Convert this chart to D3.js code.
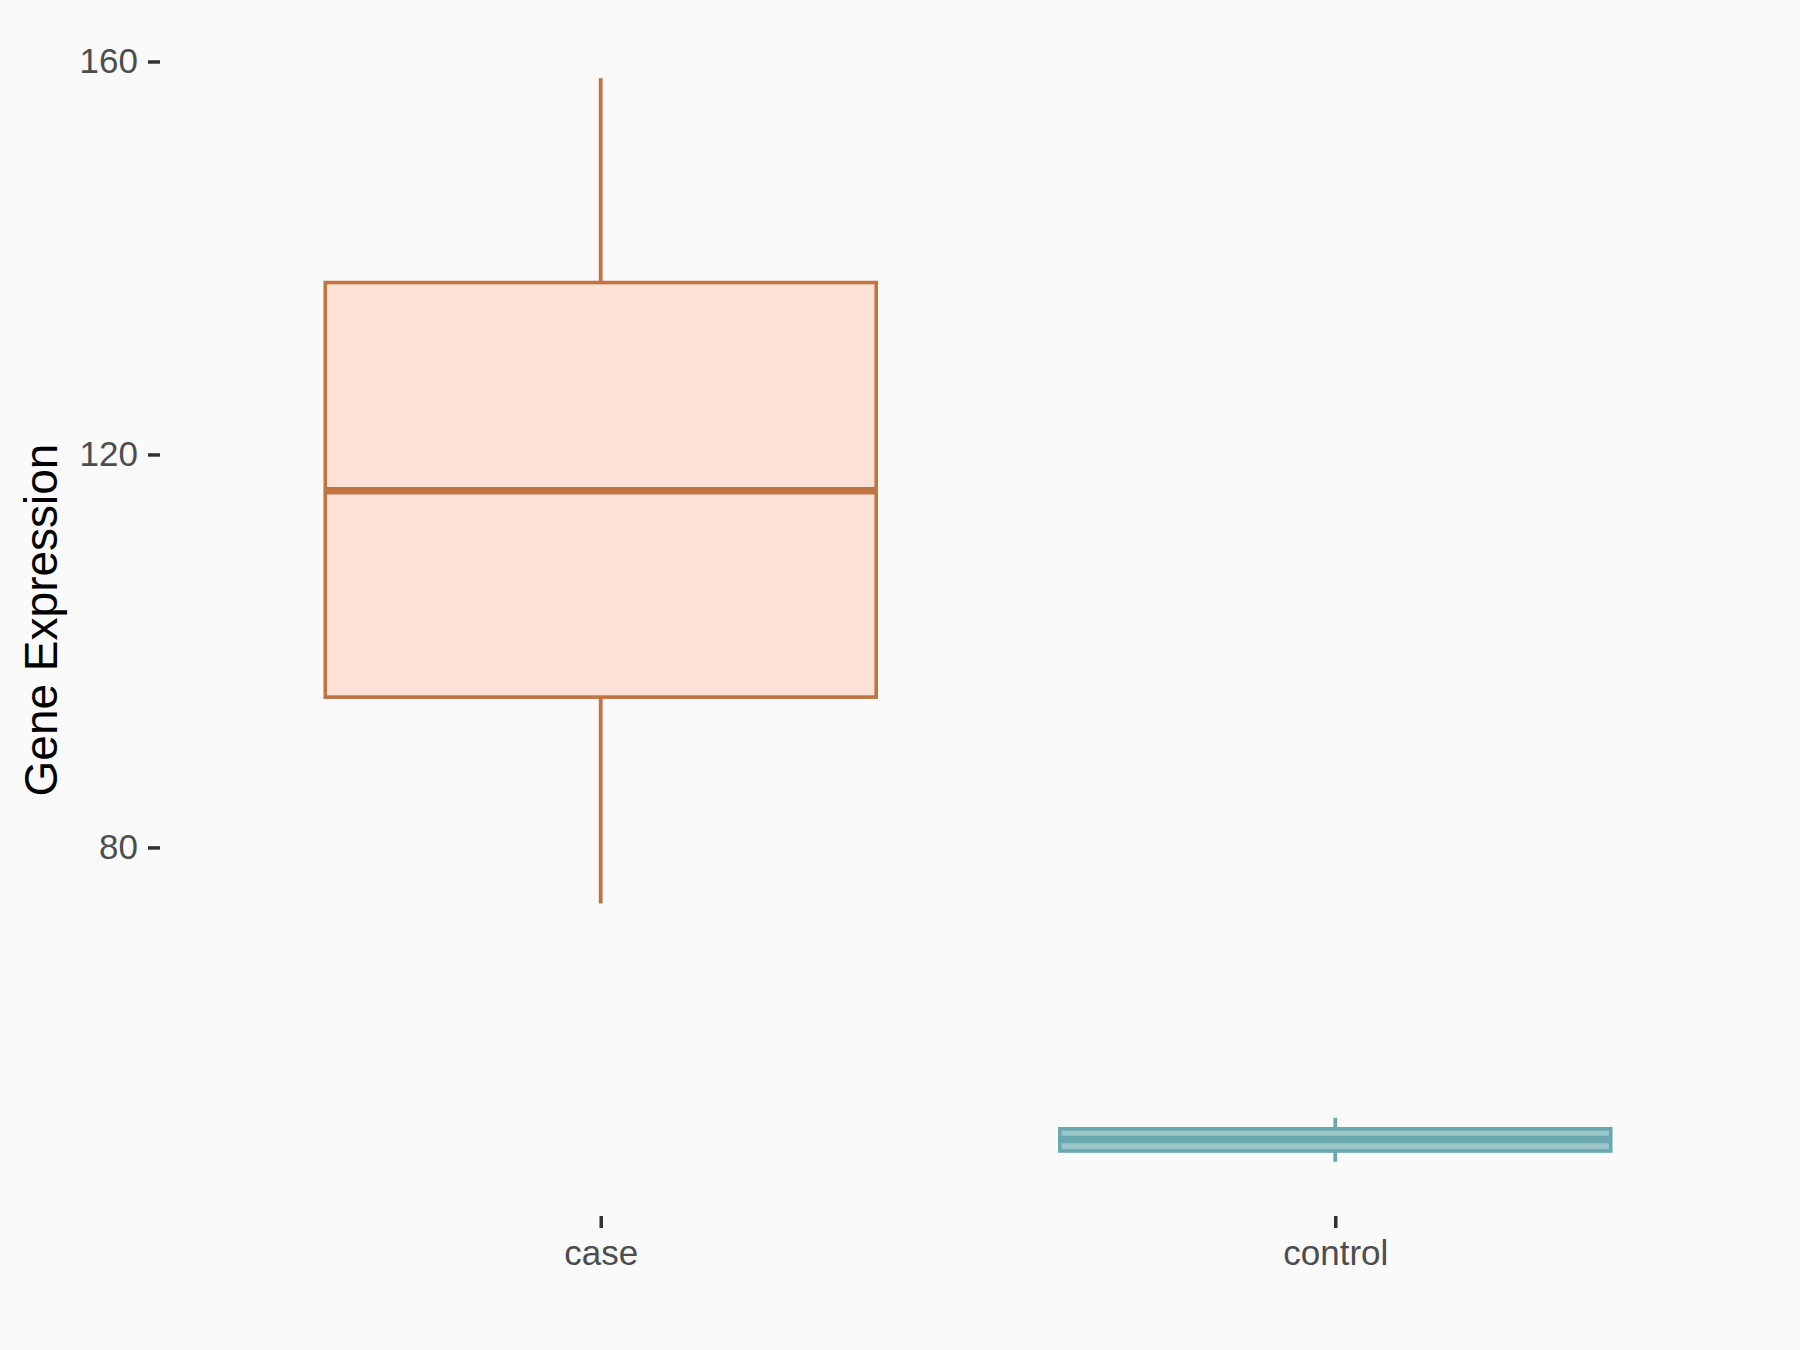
<!DOCTYPE html>
<html>
<head>
<meta charset="utf-8">
<title>Gene Expression boxplot</title>
<style>
    body, html {
        margin: 0;
        background: #fafafa;
        font-family: "Liberation Sans", Arial, sans-serif;
    }
    .axis .domain {
        display: none;
    }
</style>
</head>
<body>
<div id="chart"></div>
<script src="https://cdn.jsdelivr.net/npm/d3@7"></script>
<script>

    // box statistics
    var groups = ['case', 'control'];
    var lowerWhisker = [74.3, 48.0];
    var lowerHinge = [95.3, 49.1];
    var medians = [116.3, 50.27];
    var upperHinge = [137.5, 51.36];
    var upperWhisker = [158.3, 52.48];
    var yTicks = [80, 120, 160];

    var fills = ['#fee1d6', '#9cc5c8'];
    var strokes = ['#c07442', '#6aa8b0'];

    var width = 1800;
    var height = 1350;
    var margin = {top: 24, right: 24, bottom: 134, left: 160};

    var svg = d3.select('#chart')
        .append('svg')
        .attr('width', width)
        .attr('height', height)
        .style('display', 'block');

    svg.append('rect')
        .attr('width', width)
        .attr('height', height)
        .attr('fill', '#fafafa');

    var x = d3.scalePoint()
        .domain(groups)
        .range([margin.left, width - margin.right])
        .padding(0.6);

    var boxWidth = x.step() * 0.75;

    var lo = d3.min(lowerWhisker);
    var hi = d3.max(upperWhisker);
    var pad = (hi - lo) * 0.05;

    var y = d3.scaleLinear()
        .domain([lo - pad, hi + pad])
        .range([height - margin.bottom, margin.top]);

    var data = groups.map(function(g, i) {
        return {
            group: g,
            lw: lowerWhisker[i],
            q1: lowerHinge[i],
            med: medians[i],
            q3: upperHinge[i],
            uw: upperWhisker[i],
            fill: fills[i],
            stroke: strokes[i]
        };
    });

    var box = svg.selectAll('.box')
        .data(data)
        .enter()
        .append('g')
        .attr('class', 'box');

    // whiskers
    box.append('line')
        .attr('x1', function(d) { return x(d.group); })
        .attr('x2', function(d) { return x(d.group); })
        .attr('y1', function(d) { return y(d.uw); })
        .attr('y2', function(d) { return y(d.lw); })
        .attr('stroke', function(d) { return d.stroke; })
        .attr('stroke-width', 3.8);

    box.append('rect')
        .attr('x', function(d) { return x(d.group) - boxWidth / 2; })
        .attr('width', boxWidth)
        .attr('y', function(d) { return y(d.q3); })
        .attr('height', function(d) { return y(d.q1) - y(d.q3); })
        .attr('fill', function(d) { return d.fill; })
        .attr('stroke', function(d) { return d.stroke; })
        .attr('stroke-width', 3.6);

    box.append('line')
        .attr('x1', function(d) { return x(d.group) - boxWidth / 2; })
        .attr('x2', function(d) { return x(d.group) + boxWidth / 2; })
        .attr('y1', function(d) { return y(d.med); })
        .attr('y2', function(d) { return y(d.med); })
        .attr('stroke', function(d) { return d.stroke; })
        .attr('stroke-width', 7.6);

    // axes
    svg.append('g')
        .attr('class', 'axis')
        .attr('transform', 'translate(' + margin.left + ',0)')
        .call(d3.axisLeft(y).tickValues(yTicks).tickSize(12).tickPadding(10));

    svg.append('g')
        .attr('class', 'axis')
        .attr('transform', 'translate(0,' + (height - margin.bottom) + ')')
        .call(d3.axisBottom(x).tickSize(12).tickPadding(12));

    svg.selectAll('.axis .tick line')
        .attr('stroke', '#333333')
        .attr('stroke-width', 3.5);

    svg.selectAll('.axis .tick text')
        .attr('fill', '#4d4d4d')
        .style('font-family', '"Liberation Sans", Arial, sans-serif')
        .style('font-size', '35px');

    svg.append('text')
        .attr('transform', 'translate(57,' + ((margin.top + height - margin.bottom) / 2) + ') rotate(-90)')
        .attr('text-anchor', 'middle')
        .attr('fill', '#000000')
        .style('font-size', '46px')
        .text('Gene Expression');

</script>
</body>
</html>
